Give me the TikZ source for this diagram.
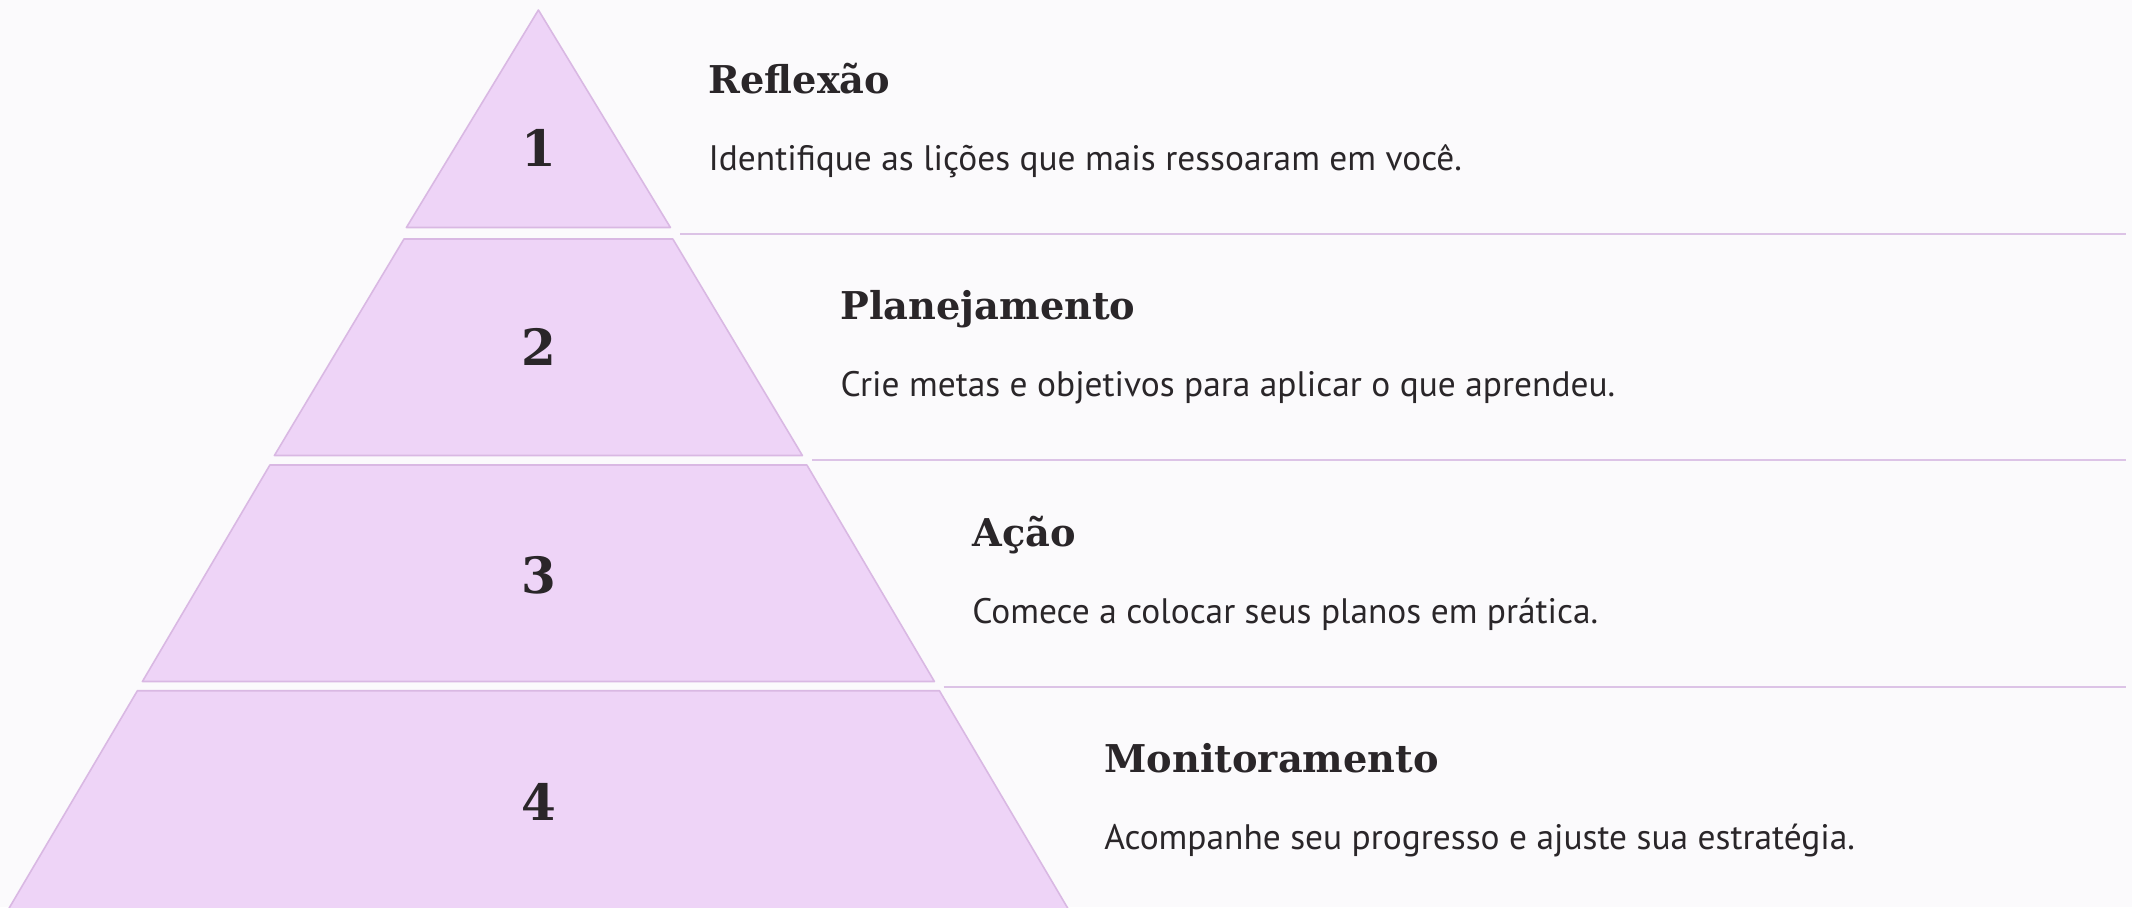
\documentclass[tikz,border=0pt]{standalone}
\usepackage{fontspec}
\setmainfont{PT Sans}
\newfontfamily\headfont{DejaVu Serif}
\definecolor{bgcol}{HTML}{FBFAFC}
\definecolor{layerfill}{HTML}{EED4F7}
\definecolor{layerline}{HTML}{D9B8E3}
\definecolor{sepcol}{HTML}{DCC3E6}
\definecolor{textcol}{HTML}{2A2629}
\tikzset{
  layer/.style={fill=layerfill, draw=layerline, line width=1.6pt, line join=round},
  sepline/.style={draw=sepcol, line width=2pt},
  numlabel/.style={anchor=base, inner sep=0pt, text=textcol, font=\headfont\bfseries\fontsize{50}{60}\selectfont},
  titlelabel/.style={anchor=base west, inner sep=0pt, text=textcol, font=\headfont\bfseries\fontsize{38.3}{46}\selectfont},
  desclabel/.style={anchor=base west, inner sep=0pt, text=textcol, font=\fontsize{35.4}{42}\selectfont}
}
\begin{document}
\begin{tikzpicture}[x=1pt,y=-1pt]
\useasboundingbox (0,0) rectangle (2132,907);
\fill[bgcol] (0,0) rectangle (2132,907);
\begin{scope}
\clip (0,0) rectangle (2132,907);
% pyramid layers
\draw[layer] (538.4,10) -- (670.4,227.5) -- (406.4,227.5) -- cycle;
\draw[layer] (404.0,239) -- (672.8,239) -- (802.4,455.5) -- (274.4,455.5) -- cycle;
\draw[layer] (269.9,465) -- (806.9,465) -- (934.4,681.5) -- (142.4,681.5) -- cycle;
\draw[layer] (137.4,690.7) -- (939.4,690.7) -- (1074.7,920) -- (2.1,920) -- cycle;
\end{scope}
% separators
\coordinate (s1a) at (680,233.9);   \coordinate (s1b) at (2126,233.9);
\coordinate (s2a) at (812,459.6);   \coordinate (s2b) at (2126,459.6);
\coordinate (s3a) at (943.6,686.7); \coordinate (s3b) at (2126,686.7);
\draw[sepline] (s1a) -- (s1b);
\draw[sepline] (s2a) -- (s2b);
\draw[sepline] (s3a) -- (s3b);
% numbers
\node[numlabel] (n1) at (538.4,166.7) {1};
\node[numlabel] (n2) at (538.4,365.7) {2};
\node[numlabel] (n3) at (538.4,593) {3};
\node[numlabel] (n4) at (538.4,820) {4};
% titles
\node[titlelabel] (t1) at (708.4,93.3) {Reflexão};
\node[titlelabel] (t2) at (840.3,319.8) {Planejamento};
\node[titlelabel] (t3) at (972.2,546.3) {Ação};
\node[titlelabel] (t4) at (1104.1,772.8) {Monitoramento};
% descriptions
\node[desclabel] (d1) at (708.4,170) {Identifique as lições que mais ressoaram em você.};
\node[desclabel] (d2) at (840.3,396.5) {Crie metas e objetivos para aplicar o que aprendeu.};
\node[desclabel] (d3) at (972.2,623) {Comece a colocar seus planos em prática.};
\node[desclabel] (d4) at (1104.1,849.5) {Acompanhe seu progresso e ajuste sua estratégia.};
\end{tikzpicture}
\end{document}
